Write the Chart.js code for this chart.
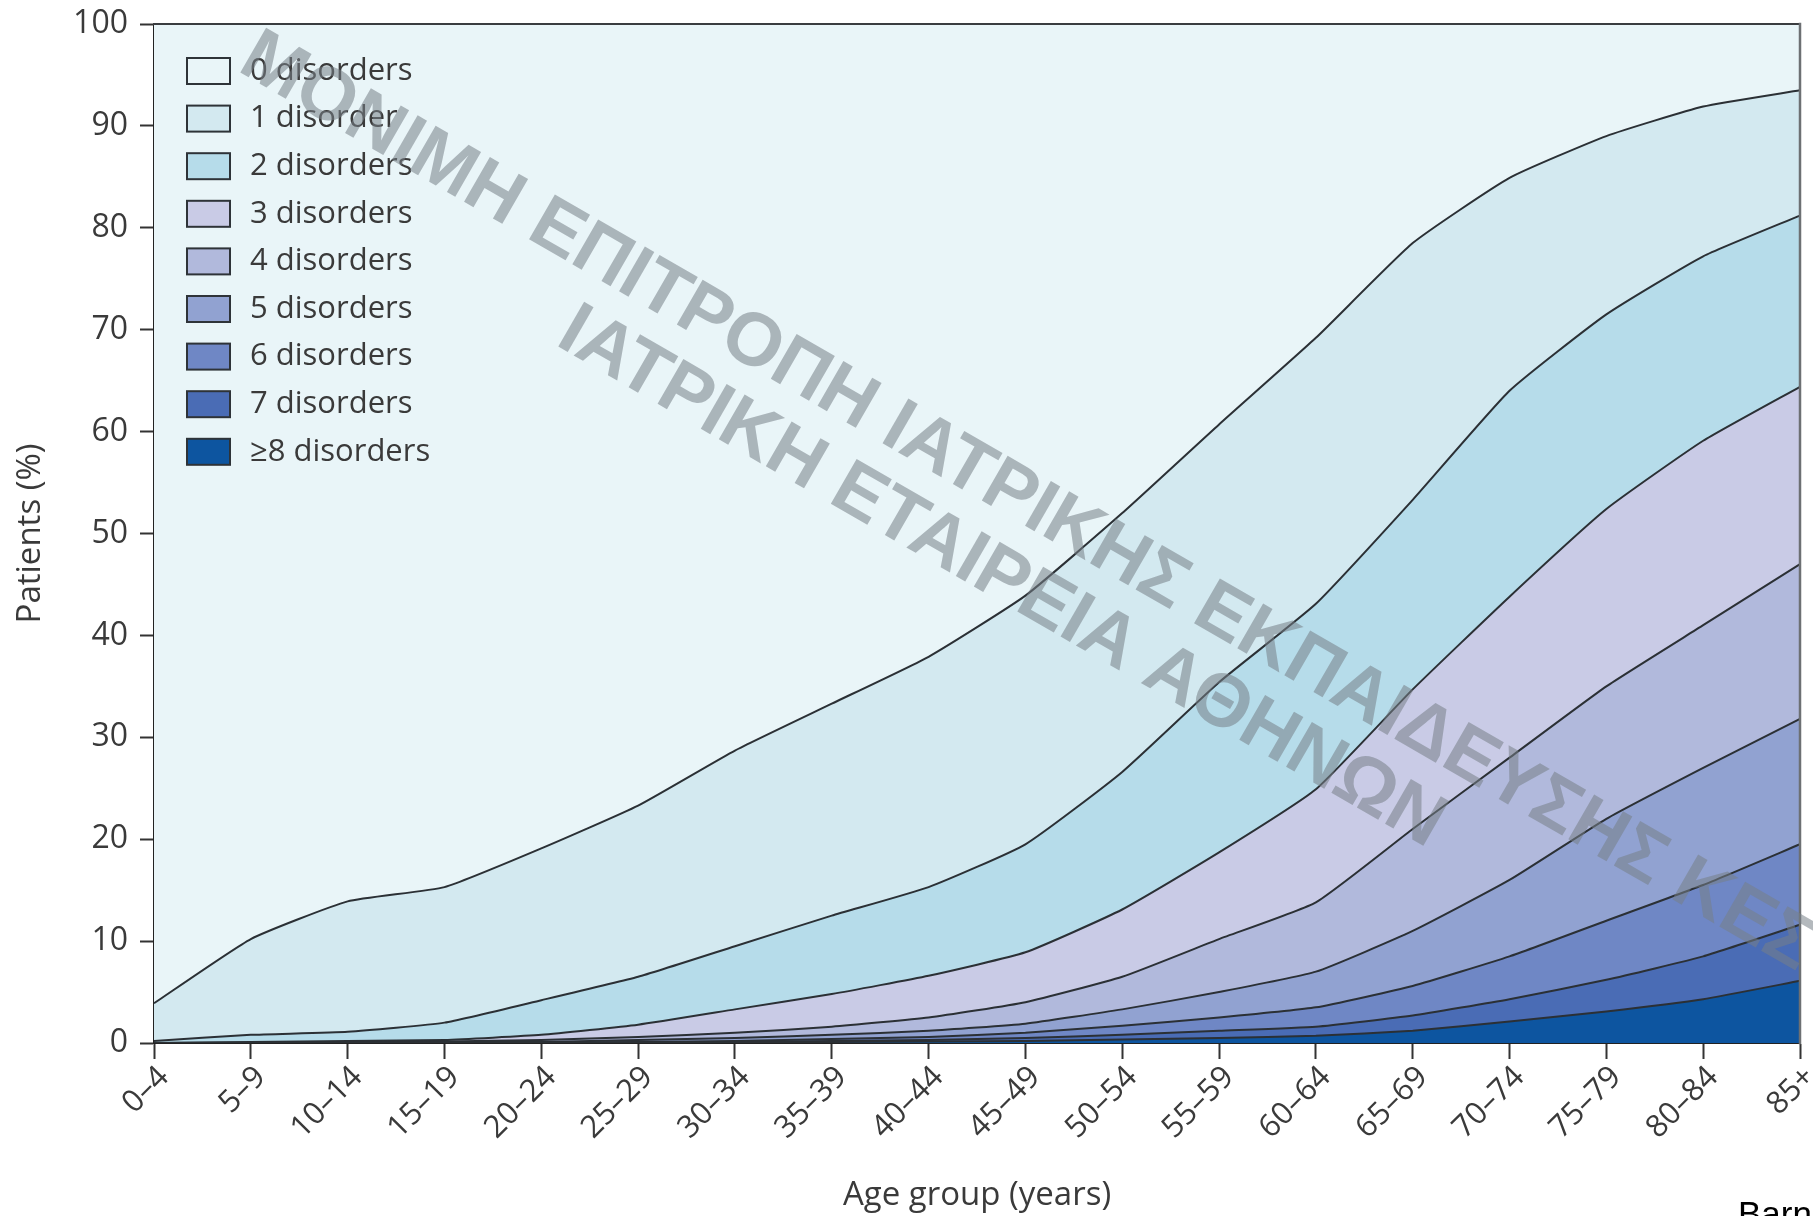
<!DOCTYPE html>
<html>
<head>
<meta charset="utf-8">
<title>Number of chronic disorders by age group</title>
<script src="https://cdn.jsdelivr.net/npm/chart.js@4.4.1/dist/chart.umd.min.js"></script>
<style>
  html, body { margin: 0; padding: 0; background: #ffffff; }
  #wrap { width: 1813px; height: 1216px; position: relative; overflow: hidden; }
  canvas { display: block; }
</style>
</head>
<body>
<div id="wrap"><canvas id="chart" width="1813" height="1216"></canvas></div>
<script>
// Age groups on the x axis
const ageGroups = ['0–4', '5–9', '10–14', '15–19', '20–24', '25–29', '30–34', '35–39', '40–44',
  '45–49', '50–54', '55–59', '60–64', '65–69', '70–74', '75–79', '80–84', '85+'];

// Cumulative share of patients (%) with at least k disorders, per age group
const allPatients = [100, 100, 100, 100, 100, 100, 100, 100, 100, 100, 100, 100, 100, 100, 100, 100, 100, 100];
const atLeast1 = [3.9, 10.2, 13.9, 15.3, 19.1, 23.3, 28.7, 33.3, 37.9, 43.9, 52.0, 60.7, 69.2, 78.5, 84.9, 89.0, 91.9, 93.5];
const atLeast2 = [0.2, 0.8, 1.1, 2.0, 4.2, 6.5, 9.5, 12.5, 15.3, 19.5, 26.6, 35.4, 43.1, 53.3, 64.0, 71.5, 77.2, 81.2];
const atLeast3 = [0.0, 0.1, 0.2, 0.3, 0.8, 1.8, 3.3, 4.8, 6.6, 8.9, 13.1, 18.7, 24.9, 34.7, 43.8, 52.4, 59.1, 64.4];
const atLeast4 = [0.0, 0.05, 0.1, 0.15, 0.3, 0.6, 1.0, 1.6, 2.5, 4.0, 6.5, 10.2, 13.8, 21.0, 28.0, 35.0, 41.0, 47.0];
const atLeast5 = [0.0, 0.0, 0.05, 0.1, 0.1, 0.3, 0.5, 0.8, 1.2, 1.9, 3.3, 5.0, 7.0, 11.0, 16.0, 22.0, 27.0, 31.8];
const atLeast6 = [0.0, 0.0, 0.0, 0.05, 0.05, 0.1, 0.2, 0.4, 0.6, 1.0, 1.7, 2.5, 3.5, 5.6, 8.5, 12.0, 15.5, 19.5];
const atLeast7 = [0.0, 0.0, 0.0, 0.0, 0.0, 0.05, 0.1, 0.2, 0.3, 0.5, 0.8, 1.2, 1.6, 2.7, 4.3, 6.2, 8.5, 11.6];
const atLeast8 = [0.0, 0.0, 0.0, 0.0, 0.0, 0.0, 0.05, 0.1, 0.15, 0.2, 0.35, 0.5, 0.7, 1.2, 2.1, 3.1, 4.3, 6.1];

// Y axis ticks
const yTicks = [0, 10, 20, 30, 40, 50, 60, 70, 80, 90, 100];

// Legend labels and band colours, from 0 disorders down to >=8
const bandLabels = ['0 disorders', '1 disorder', '2 disorders', '3 disorders', '4 disorders',
  '5 disorders', '6 disorders', '7 disorders', '≥8 disorders'];
const bandColors = ['#e9f5f8', '#d3e9f0', '#b6dcea', '#c9cbe6', '#b1b9dc',
  '#91a2d1', '#6f87c5', '#4a6cb5', '#0d55a0'];

// Upper boundary of each band, in the same order as the labels
const bandTops = [allPatients, atLeast1, atLeast2, atLeast3, atLeast4, atLeast5, atLeast6, atLeast7, atLeast8];

const LINE = '#2b3035';
const TEXT = '#3a3a3a';
const FONT = '"Open Sans", "Noto Sans", sans-serif';

// Build datasets bottom-up so each band fills down to the one beneath it
const datasets = [];
for (let i = bandLabels.length - 1; i >= 0; i--) {
  const isBottom = i === bandLabels.length - 1;
  const isTop = i === 0;
  datasets.push({
    label: bandLabels[i],
    data: bandTops[i],
    backgroundColor: bandColors[i],
    borderColor: LINE,
    borderWidth: isTop ? 0 : 2,
    pointRadius: 0,
    pointHoverRadius: 0,
    tension: 0.15,
    fill: isBottom ? 'origin' : '-1'
  });
}

// Frame, legend, watermark and caption
const decorations = {
  id: 'decorations',
  afterDatasetsDraw(chart) {
    const { ctx, chartArea } = chart;
    ctx.save();
    // top and right frame
    ctx.lineCap = 'square';
    ctx.strokeStyle = '#3a3d40';
    ctx.lineWidth = 2;
    ctx.beginPath();
    ctx.moveTo(chartArea.left, chartArea.top);
    ctx.lineTo(chartArea.right, chartArea.top);
    ctx.stroke();
    ctx.strokeStyle = '#6d7073';
    ctx.lineWidth = 2.5;
    ctx.beginPath();
    ctx.moveTo(chartArea.right, chartArea.top);
    ctx.lineTo(chartArea.right, chartArea.bottom);
    ctx.stroke();

    // legend, 0 disorders at the top
    const boxX = chartArea.left + 33;
    const boxW = 43, boxH = 26;
    const rowStart = chartArea.top + 47;
    const rowGap = 47.6;
    ctx.font = '31px ' + FONT;
    ctx.textBaseline = 'middle';
    ctx.textAlign = 'left';
    bandLabels.forEach((label, i) => {
      const cy = rowStart + i * rowGap;
      ctx.fillStyle = bandColors[i];
      ctx.fillRect(boxX, cy - boxH / 2, boxW, boxH);
      ctx.strokeStyle = '#2e3338';
      ctx.lineWidth = 2;
      ctx.strokeRect(boxX, cy - boxH / 2, boxW, boxH);
      ctx.fillStyle = TEXT;
      ctx.fillText(label, boxX + boxW + 20, cy);
    });
    ctx.restore();
  },
  afterDraw(chart) {
    const { ctx } = chart;
    ctx.save();
    ctx.font = 'bold 75px "Liberation Sans", Arial, sans-serif';
    ctx.fillStyle = 'rgba(118, 128, 134, 0.55)';
    ctx.textBaseline = 'alphabetic';
    ctx.textAlign = 'left';
    const angle = 30 * Math.PI / 180;
    ctx.save();
    ctx.translate(236, 70);
    ctx.rotate(angle);
    ctx.fillText('ΜΟΝΙΜΗ ΕΠΙΤΡΟΠΗ ΙΑΤΡΙΚΗΣ ΕΚΠΑΙΔΕΥΣΗΣ ΚΕΣΥ', 0, 0);
    ctx.restore();
    ctx.save();
    ctx.translate(554, 344);
    ctx.rotate(angle);
    ctx.fillText('ΙΑΤΡΙΚΗ ΕΤΑΙΡΕΙΑ ΑΘΗΝΩΝ', 0, 0);
    ctx.restore();

    // source caption along the bottom edge
    ctx.font = '35px "Liberation Sans", Arial, sans-serif';
    ctx.fillStyle = '#000000';
    ctx.fillText('Barnett K, et al. Lancet 2012', 1738, 1226);
    ctx.restore();
  }
};

new Chart(document.getElementById('chart'), {
  type: 'line',
  data: { labels: ageGroups, datasets },
  options: {
    responsive: false,
    animation: false,
    events: [],
    layout: { padding: { top: 24, right: 13, bottom: 0, left: 0 } },
    plugins: {
      legend: { display: false },
      tooltip: { enabled: false },
      filler: { drawTime: 'beforeDatasetsDraw' }
    },
    scales: {
      x: {
        type: 'category',
        offset: false,
        grid: { display: true, drawOnChartArea: false, drawTicks: true, tickLength: 16, tickColor: '#333333', tickWidth: 2 },
        border: { display: true, color: '#222222', width: 2 },
        ticks: {
          autoSkip: false, maxRotation: 45, minRotation: 45,
          color: TEXT, font: { family: FONT, size: 31 }, padding: 0, labelOffset: 10
        },
        title: {
          display: true, text: 'Age group (years)', color: TEXT,
          font: { family: FONT, size: 33 }, padding: { top: 0, bottom: 1 }
        },
        afterFit(scale) {
          scale.height = 173;
          scale.paddingLeft = 0;
          scale.paddingRight = 0;
        }
      },
      y: {
        min: 0, max: 100,
        afterBuildTicks(scale) { scale.ticks = yTicks.map(v => ({ value: v })); },
        grid: { display: true, drawOnChartArea: false, drawTicks: true, tickLength: 14, tickColor: '#333333', tickWidth: 2 },
        border: { display: true, color: '#222222', width: 2 },
        ticks: { color: TEXT, font: { family: FONT, size: 32 }, padding: 12 },
        title: {
          display: true, text: 'Patients (%)', color: TEXT,
          font: { family: FONT, size: 33 }, padding: { top: 11, bottom: 0 }
        },
        afterFit(scale) {
          scale.width = 154;
          scale.paddingTop = 0;
          scale.paddingBottom = 0;
        }
      }
    }
  },
  plugins: [decorations]
});
</script>
</body>
</html>
